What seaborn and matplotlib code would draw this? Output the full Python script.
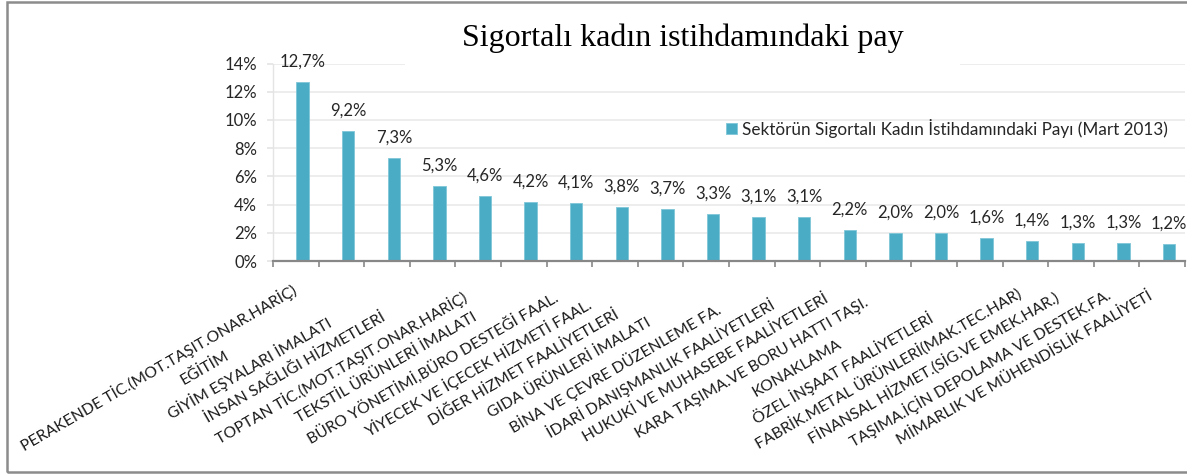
import matplotlib
matplotlib.use("Agg")
import matplotlib.pyplot as plt
import pandas as pd
import seaborn as sns
from matplotlib.patches import Rectangle
from matplotlib.ticker import PercentFormatter, FixedLocator
from matplotlib.transforms import ScaledTranslation

# data
sectors = [
    "PERAKENDE TİC.(MOT.TAŞIT.ONAR.HARİÇ)",
    "EĞİTİM",
    "GİYİM EŞYALARI İMALATI",
    "İNSAN SAĞLIĞI HİZMETLERİ",
    "TOPTAN TİC.(MOT.TAŞIT.ONAR.HARİÇ)",
    "TEKSTİL ÜRÜNLERİ İMALATI",
    "BÜRO YÖNETİMİ,BÜRO DESTEĞİ FAAL.",
    "YİYECEK VE İÇECEK HİZMETİ FAAL.",
    "DİĞER HİZMET FAALİYETLERİ",
    "GIDA ÜRÜNLERİ İMALATI",
    "BİNA VE ÇEVRE DÜZENLEME FA.",
    "İDARİ DANIŞMANLIK FAALİYETLERİ",
    "HUKUKİ VE MUHASEBE FAALİYETLERİ",
    "KARA TAŞIMA.VE BORU HATTI TAŞI.",
    "KONAKLAMA",
    "ÖZEL İNŞAAT FAALİYETLERİ",
    "FABRİK.METAL ÜRÜNLERİ(MAK.TEC.HAR)",
    "FİNANSAL HİZMET.(SİG.VE EMEK.HAR.)",
    "TAŞIMA.İÇİN DEPOLAMA VE DESTEK.FA.",
    "MİMARLIK VE MÜHENDİSLİK FAALİYETİ",
]
share = [12.7, 9.2, 7.3, 5.3, 4.6, 4.2, 4.1, 3.8, 3.7, 3.3,
         3.1, 3.1, 2.2, 2.0, 2.0, 1.6, 1.4, 1.3, 1.3, 1.2]
y_ticks = [0, 2, 4, 6, 8, 10, 12, 14]
series_name = "Sektörün Sigortalı Kadın İstihdamındaki Payı (Mart 2013)"
title = "Sigortalı kadın istihdamındaki pay"

df = pd.DataFrame({"sector": sectors, "share": share})

sns.set_theme(style="white")
plt.rcParams["font.family"] = ["Lato", "DejaVu Sans"]

W, H = 1187, 475
fig = plt.figure(figsize=(W / 100, H / 100), dpi=100)
ax = fig.add_axes([273 / W, 1 - 261 / H, 912 / W, (261 - 63.6) / H])

bar_color = "#4BACC6"
sns.barplot(data=df, x="sector", y="share", color=bar_color, width=0.27,
            saturation=1, edgecolor="#7FC6D8", linewidth=0.6,
            label=series_name, ax=ax, zorder=3)

# in the original the bars sit a little right of the category centre
for patch in ax.containers[0]:
    patch.set_x(patch.get_x() + 0.15)

ax.set_xlim(-0.5, len(sectors) - 0.5)
ax.set_ylim(0, 14)
ax.yaxis.set_major_locator(FixedLocator(y_ticks))
ax.yaxis.set_major_formatter(PercentFormatter(xmax=100, decimals=0))
ax.grid(axis="y", color="#EDEDED", linewidth=1.4, zorder=0)
ax.set_xlabel("")
ax.set_ylabel("")

# spines
for s in ["top", "right"]:
    ax.spines[s].set_visible(False)
ax.spines["left"].set_color("#E4E4E4")
ax.spines["left"].set_linewidth(1.0)
ax.spines["bottom"].set_color("#878787")
ax.spines["bottom"].set_linewidth(1.6)
ax.spines["bottom"].set_zorder(4)

# y ticks
ax.tick_params(axis="y", direction="out", length=4.5, width=1.2, color="#E4E4E4",
               pad=7, labelsize=12, labelcolor="#262626", left=True)

# x ticks: marks at category borders, labels drawn rotated and shifted
ax.set_xticks([i - 0.5 for i in range(len(sectors) + 1)], minor=True)
ax.tick_params(axis="x", which="minor", direction="out", length=4.5, width=1.2,
               color="#878787", bottom=True)
ax.tick_params(axis="x", which="major", length=0, labelbottom=False)

shift = ScaledTranslation(-1.37, -1.07, fig.dpi_scale_trans)
for i, name in enumerate(sectors):
    ax.text(i, 0, name, transform=ax.get_xaxis_transform() + shift,
            rotation=30, rotation_mode="anchor", ha="center", va="center",
            fontsize=11.3, color="#1a1a1a", clip_on=False)

# value labels
ax.bar_label(ax.containers[0],
             labels=[f"{v:.1f}".replace(".", ",") + "%" for v in share],
             padding=9, fontsize=12, color="#262626", clip_on=False)

# legend
ax.legend(loc="center left", bbox_to_anchor=(726 / W, 1 - 128 / H),
          bbox_transform=fig.transFigure, frameon=False, fontsize=12.3,
          handlelength=0.65, handleheight=0.65, handletextpad=0.3,
          borderpad=0, borderaxespad=0, labelcolor="#262626")

# title with white backing covering the top gridline
fig.add_artist(Rectangle((405 / W, 1 - 70 / H), 555 / W, 55 / H,
                         transform=fig.transFigure, facecolor="white",
                         edgecolor="none", zorder=1))
fig.text(683 / W, 1 - 38 / H, title, ha="center", va="center",
         fontsize=23, family=["Liberation Serif", "DejaVu Serif"],
         color="black", zorder=2)

# outer chart border
fig.add_artist(Rectangle((7 / W, 3 / H), 1.1, 470 / H, transform=fig.transFigure,
                         facecolor="none", edgecolor="#8C8C8C", linewidth=1.8,
                         clip_on=False, zorder=5))

fig.savefig("out.png", dpi=100)
